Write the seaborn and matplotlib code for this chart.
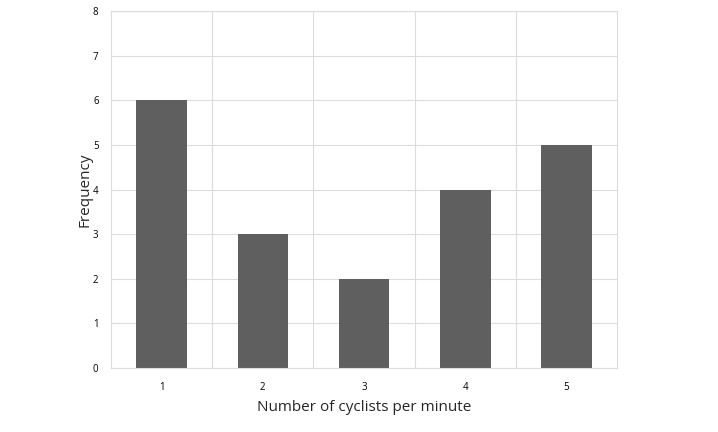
import matplotlib
matplotlib.use("Agg")
import matplotlib.pyplot as plt
import seaborn as sns
import pandas as pd
from matplotlib.ticker import FixedLocator

categories = ["1", "2", "3", "4", "5"]
frequency = [6, 3, 2, 4, 5]

sns.set_theme(style="white")
plt.rcParams['font.family'] = ['Open Sans', 'DejaVu Sans']

df = pd.DataFrame({"cyclists": categories, "freq": frequency})

fig = plt.figure(figsize=(7.18, 4.32), dpi=100)
ax = fig.add_axes([111/718, 1 - 368/432, (617 - 111)/718, (368 - 11)/432])
sns.barplot(data=df, x="cyclists", y="freq", color="#5f5f5f", width=0.5,
            saturation=1, ax=ax, edgecolor="none")

ax.set_xlim(-0.5, 4.5)
ax.set_ylim(0, 8)
ax.set_yticks(range(0, 9))
ax.xaxis.set_minor_locator(FixedLocator([0.5, 1.5, 2.5, 3.5]))
ax.grid(True, axis="y", which="major", color="#dcdcdc", linewidth=0.8)
ax.grid(True, axis="x", which="minor", color="#dcdcdc", linewidth=0.8)
ax.set_axisbelow(True)
for s in ax.spines.values():
    s.set_color("#dcdcdc")
    s.set_linewidth(0.8)
ax.tick_params(axis="both", which="both", length=0, labelsize=7, colors="#000000")
ax.tick_params(axis="y", pad=9)
ax.tick_params(axis="x", pad=10)
ax.set_xlabel("Number of cyclists per minute", fontsize=11, labelpad=5)
ax.set_ylabel("Frequency", fontsize=11, labelpad=0)

fig.savefig("out.png", dpi=100)
